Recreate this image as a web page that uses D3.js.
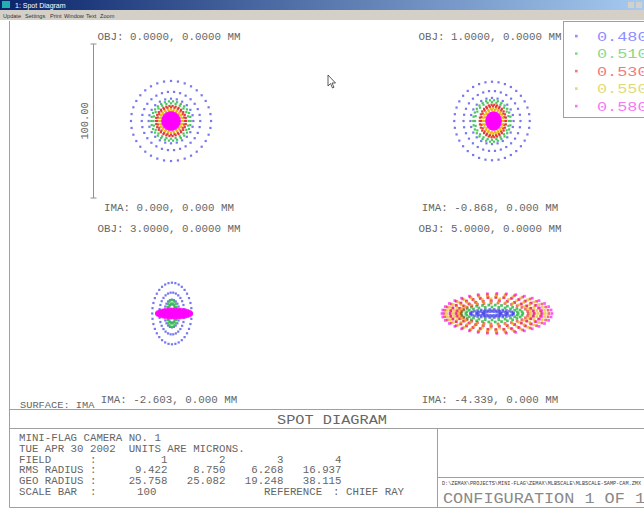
<!DOCTYPE html>
<html>
<head>
<meta charset="utf-8">
<title>Spot Diagram</title>
<script src="https://d3js.org/d3.v7.min.js"></script>
<style>
  body { margin: 0; background: #fff; overflow: hidden; }
  svg { display: block; }
  text { font-family: "Liberation Mono", "DejaVu Sans Mono", monospace; white-space: pre; }
  .ui { font-family: "Liberation Sans", Arial, sans-serif; }
</style>
</head>
<body>
<div id="chart"></div>
<script>
  // wavelengths (microns) and colours
  const waves = ['0.4800', '0.5100', '0.5300', '0.5500', '0.5800'];
  const waveColors = ['#4a4ae8', '#38c050', '#e02828', '#e8b400', '#ff00ff'];
  const legendColors = ['#8e8eff', '#8ad88a', '#f27a7a', '#e2da78', '#f47af4'];

  // field data
  const fields = [1, 2, 3, 4];
  const objLabels = ['OBJ: 0.0000, 0.0000 MM', 'OBJ: 1.0000, 0.0000 MM', 'OBJ: 3.0000, 0.0000 MM', 'OBJ: 5.0000, 0.0000 MM'];
  const imaLabels = ['IMA: 0.000, 0.000 MM', 'IMA: -0.868, 0.000 MM', 'IMA: -2.603, 0.000 MM', 'IMA: -4.339, 0.000 MM'];
  const rmsRadius = ['9.422', '8.750', '6.268', '16.937'];
  const geoRadius = ['25.758', '25.082', '19.248', '38.115'];
  const scaleBar = 100;

  // ray rings: [wave index, x semi-axis, y semi-axis, x offset, rays]  (microns)
  const spots1 = [
    [0, 26, 26, 0, 36], [0, 19, 19, 0, 30], [0, 14.5, 14.5, 0, 24],
    [1, 12.8, 12.8, 0, 30], [1, 11.5, 11.5, 0, 24],
    [2, 9.8, 9.8, 0, 30], [2, 8.8, 8.8, 0, 24],
    [3, 7.6, 7.6, 0, 24], [3, 6.6, 6.6, 0, 18],
    [4, 5.4, 5.4, 0, 36], [4, 4.4, 4.4, 0, 30], [4, 3.4, 3.4, 0, 24],
    [4, 2.4, 2.4, 0, 18], [4, 1.4, 1.4, 0, 12], [4, 0.5, 0.5, 0, 6]
  ];
  const spots2 = [
    [0, 24.5, 25.5, 0, 36], [0, 18.5, 19.5, 0, 30], [0, 14, 15, 0, 24],
    [1, 12.2, 13.5, 0, 30], [1, 11, 12.2, 0, 24],
    [2, 8.6, 10.6, 0.6, 30], [2, 7.6, 9.5, 0.6, 24],
    [3, 6.6, 8.2, 0.8, 24], [3, 5.6, 7.2, 0.8, 18],
    [4, 4.4, 5.3, 1, 36], [4, 3.5, 4.3, 1, 30], [4, 2.6, 3.2, 1, 24],
    [4, 1.7, 2.1, 1, 18], [4, 0.9, 1.1, 1, 12], [4, 0.3, 0.4, 1, 6]
  ];
  const spots3 = [
    [0, 12.8, 20, 0.6, 36], [0, 8.2, 13.6, 0.6, 30], [0, 5, 9, 0.6, 24], [0, 3, 6, 0.6, 18],
    [1, 3.4, 8.8, 0.6, 24], [1, 2.4, 6.6, 0.6, 18],
    [2, 8.5, 2.4, 1.5, 24], [2, 6, 1.7, 1.5, 18],
    [3, 10, 2.7, 1.8, 30], [3, 7, 1.9, 1.8, 24],
    [4, 11.4, 3, 2, 36], [4, 9.2, 2.5, 2, 30], [4, 7, 1.9, 2, 24],
    [4, 4.6, 1.3, 2, 18], [4, 2.4, 0.7, 2, 12]
  ];
  const spots4 = [
    [0, 14, 2.6, 0, 30], [0, 10, 1.8, 0, 24], [0, 6, 1.2, 0, 18],
    [1, 20, 5.5, 0, 30], [1, 17, 4.2, 0, 24],
    [4, 35.7, 13, 3.2, 36], [4, 30, 10.6, 2.7, 36], [4, 25, 8.2, 2.2, 30],
    [2, 34, 12.3, 2.9, 36], [2, 29.5, 10.4, 2.4, 36], [2, 25.5, 8.4, 2, 30], [2, 22, 6.8, 1.6, 30],
    [3, 32, 11.6, 2.6, 36], [3, 27.5, 9.6, 2.2, 30], [3, 23.5, 7.6, 1.8, 30]
  ];
  const spots = [spots1, spots2, spots3, spots4];

  const menuItems = ['Update', 'Settings', 'Print', 'Window', 'Text', 'Zoom'];

  const width = 644, height = 512;
  const ink = '#666';

  const svg = d3.select('#chart').append('svg')
    .attr('width', width).attr('height', height);

  // text helper: o.w = drawn width, o.adv = per-character advance
  function label(sel, x, y, str, o) {
    const t = sel.append('text').attr('x', x).attr('y', y).text(str)
      .attr('font-size', o.size).attr('fill', o.fill || ink);
    const w = o.w || (o.adv ? str.length * o.adv : 0);
    if (w) t.attr('textLength', w).attr('lengthAdjust', 'spacingAndGlyphs');
    if (o.anchor) t.attr('text-anchor', o.anchor);
    if (o.rotate) t.attr('transform', `rotate(${o.rotate},${x},${y})`);
    if (o.cls) t.attr('class', o.cls);
    return t;
  }

  // ---- window chrome ----
  const grad = svg.append('defs').append('linearGradient').attr('id', 'tb');
  grad.append('stop').attr('offset', '0%').attr('stop-color', '#0a246a');
  grad.append('stop').attr('offset', '100%').attr('stop-color', '#a6caf0');
  svg.append('rect').attr('width', width).attr('height', 10).attr('fill', 'url(#tb)');
  svg.append('rect').attr('x', 2).attr('y', 1).attr('width', 8).attr('height', 7).attr('fill', '#20b0b0');
  label(svg, 15, 8, '1: Spot Diagram', { size: 7, fill: '#fff', cls: 'ui' });
  svg.append('rect').attr('x', 628).attr('y', 2).attr('width', 6).attr('height', 6).attr('fill', '#d4d0c8');
  svg.append('rect').attr('x', 636).attr('y', 2).attr('width', 6).attr('height', 6).attr('fill', '#d4d0c8');
  svg.append('rect').attr('y', 10).attr('width', width).attr('height', 10).attr('fill', '#d4d0c8');
  const menuX = d3.scaleOrdinal().domain(menuItems).range([3, 25, 50, 64, 86, 100]);
  menuItems.forEach(m => label(svg, menuX(m), 17.5, m, { size: 5.6, fill: '#333', cls: 'ui' }));

  // frame
  const line = (x1, y1, x2, y2) => svg.append('line')
    .attr('x1', x1).attr('y1', y1).attr('x2', x2).attr('y2', y2)
    .attr('stroke', '#a0a0a0').attr('stroke-width', 1);
  line(9.5, 21, 9.5, 507.5);
  line(9.5, 507.5, width, 507.5);
  line(9.5, 409.5, width, 409.5);
  line(9.5, 428.5, width, 428.5);
  line(437.5, 428.5, 437.5, 507.5);
  line(437.5, 477.5, width, 477.5);

  // ---- spot panels ----
  const colX = d3.scalePoint().domain([0, 1]).range([171, 492]);
  const rowY = d3.scalePoint().domain([0, 1]).range([121, 313.5]);
  const half = 77; // px for half a scale bar

  spots.forEach((rings, i) => {
    const cx = colX(i % 2), cy = rowY(Math.floor(i / 2));
    const x = d3.scaleLinear().domain([-scaleBar / 2, scaleBar / 2]).range([cx - half, cx + half]);
    const y = d3.scaleLinear().domain([-scaleBar / 2, scaleBar / 2]).range([cy + half, cy - half]);

    const rays = rings.flatMap(([w, rx, ry, dx, n]) =>
      d3.range(n).map(j => {
        const a = 2 * Math.PI * j / n;
        return { w, x: dx + rx * Math.cos(a), y: ry * Math.sin(a) };
      }));

    const size = d => (d.w === 4 || i === 3) ? 2.7 : 2.2;
    const g = svg.append('g');
    g.selectAll('rect').data(rays).enter().append('rect')
      .attr('x', d => x(d.x) - size(d) / 2)
      .attr('y', d => y(d.y) - size(d) / 2)
      .attr('width', size)
      .attr('height', size)
      .attr('fill', d => waveColors[d.w])
      .attr('opacity', d => i === 3 && d.w > 1 ? 0.65 : (d.w === 0 ? 0.75 : 0.9));

    label(svg, cx - 2, cy - 81.5, objLabels[i], { size: 10.5, adv: 6.5, anchor: 'middle' });
    label(svg, cx - 2, cy + 89.5, imaLabels[i], { size: 10.5, adv: 6.5, anchor: 'middle' });

    // scale bar on the first panel
    if (i === 0) {
      const sx = 93.5;
      svg.append('line').attr('x1', sx).attr('x2', sx)
        .attr('y1', y(scaleBar / 2)).attr('y2', y(-scaleBar / 2))
        .attr('stroke', '#909090');
      [scaleBar / 2, -scaleBar / 2].forEach(v => svg.append('line')
        .attr('x1', sx - 3).attr('x2', sx + 3).attr('y1', y(v)).attr('y2', y(v))
        .attr('stroke', '#909090'));
      label(svg, 87.5, cy, scaleBar.toFixed(2), { size: 10.5, adv: 6.2, anchor: 'middle', rotate: -90 });
    }
  });

  // mouse pointer left on the plot
  svg.append('path')
    .attr('d', 'M328,75 L328,86 L330.5,83.5 L332.5,88 L334,87.3 L332,83 L335.5,83 Z')
    .attr('fill', '#fff').attr('stroke', '#333').attr('stroke-width', 0.8);

  // ---- legend ----
  const lg = svg.append('g');
  lg.append('rect').attr('x', 563.5).attr('y', 21.5).attr('width', 100).attr('height', 96)
    .attr('fill', '#fff').attr('stroke', '#a0a0a0');
  const legY = d3.scalePoint().domain(waves).range([36, 106]);
  waves.forEach((w, i) => {
    lg.append('rect').attr('x', 575).attr('y', legY(w) - 1.2)
      .attr('width', 2.6).attr('height', 2.6).attr('fill', legendColors[i]);
    label(lg, 597, legY(w) + 4.5, w, { size: 13, adv: 10.1, fill: legendColors[i] });
  });

  // ---- title strip and text block (fixed-pitch columns) ----
  label(svg, 20, 408, 'SURFACE: IMA', { size: 9.5, adv: 6.2 });
  label(svg, 332, 424, 'SPOT DIAGRAM', { size: 13, w: 110, anchor: 'middle' });

  const tx = 19, adv = 6.45, fs = 10.5;
  const col = k => tx + k * adv;                 // character column -> x
  const rowBase = [441, 451.5, 462.5, 473, 483.5, 494.5];
  label(svg, col(0), rowBase[0], 'MINI-FLAG CAMERA NO. 1', { size: fs, adv });
  label(svg, col(0), rowBase[1], 'TUE APR 30 2002', { size: fs, adv });
  label(svg, col(17), rowBase[1], 'UNITS ARE MICRONS.', { size: fs, adv });
  ['FIELD', 'RMS RADIUS', 'GEO RADIUS', 'SCALE BAR'].forEach((s, k) => {
    label(svg, col(0), rowBase[k + 2], s, { size: fs, adv });
    label(svg, col(11), rowBase[k + 2], ':', { size: fs, adv });
  });
  const colR = d3.scalePoint().domain(fields).range([col(23), col(50)]);
  fields.forEach((f, k) => {
    label(svg, colR(f), rowBase[2], String(f), { size: fs, adv, anchor: 'end' });
    label(svg, colR(f), rowBase[3], rmsRadius[k], { size: fs, adv, anchor: 'end' });
    label(svg, colR(f), rowBase[4], geoRadius[k], { size: fs, adv, anchor: 'end' });
  });
  label(svg, col(18.3), rowBase[5], String(scaleBar), { size: fs, adv });
  label(svg, col(38), rowBase[5], 'REFERENCE', { size: fs, adv });
  label(svg, col(48.7), rowBase[5], ': CHIEF RAY', { size: fs, adv });

  label(svg, 442, 485, 'D:\\ZEMAX\\PROJECTS\\MINI-FLAG\\ZEMAX\\MLBSCALE\\MLBSCALE-SAMP-CAM.ZMX', { size: 5.2, w: 199, fill: '#3a3a3a' });
  label(svg, 443, 503, 'CONFIGURATION 1 OF 1', { size: 14, adv: 10.1, fill: '#8a8a8a' });
</script>
</body>
</html>
